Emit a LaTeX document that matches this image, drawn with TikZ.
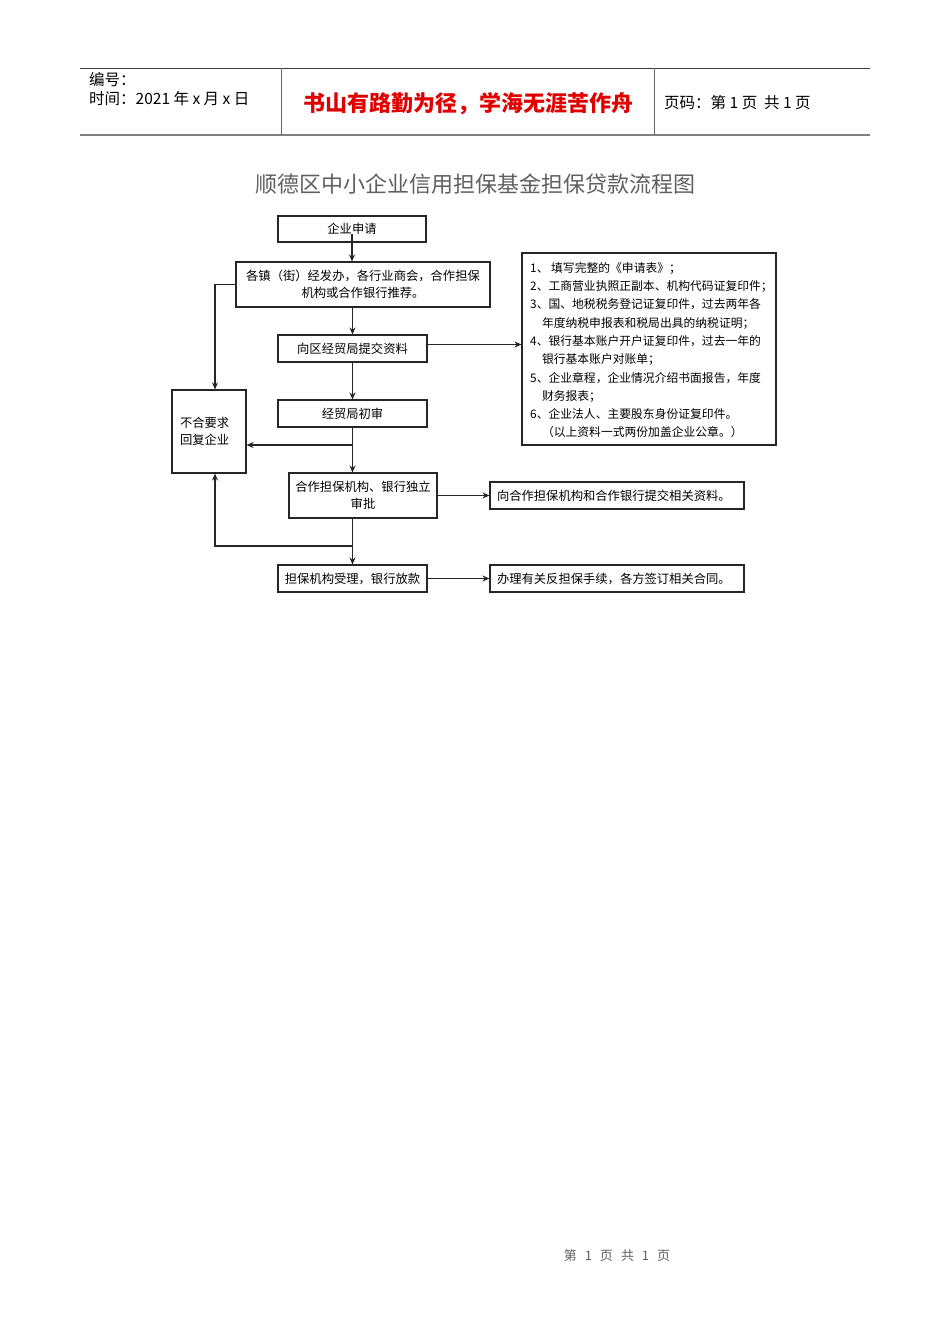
\documentclass[tikz,border=0pt]{standalone}
\usepackage{fontspec}
\setmainfont{Noto Sans CJK SC}
\usepackage{xcolor}
\usetikzlibrary{arrows.meta, positioning, calc}

\definecolor{titlegray}{HTML}{5F5F5F}
\definecolor{mottored}{HTML}{E00000}

\begin{document}
\begin{tikzpicture}[x=1pt, y=-1pt,
        base/.style={
            draw=black!85, line width=1.1pt, align=center, inner sep=0pt,
            font=\fontsize{12.3}{17}\selectfont
        },
        stepbox/.style={base, minimum width=149pt, minimum height=27pt},
        widebox/.style={base, minimum width=254pt, minimum height=27pt},
        headtext/.style={inner sep=0pt, font=\fontsize{15.5}{18}\selectfont},
        arrow/.style={line width=1.1pt, draw=black!85, -{Stealth[length=7pt, width=6pt]}}
    ]
        \useasboundingbox (0,0) rectangle (950,1344);

        % Kopfzeile
        \draw[black!75, line width=0.8pt] (80,68) -- (870,68);
        \draw[black!50, line width=2pt] (80,135) -- (870,135);
        \draw[black!60, line width=0.7pt] (281,68) -- (281,135);
        \draw[black!60, line width=0.7pt] (654,68) -- (654,135);
        \node[headtext, anchor=west] (num) at (89,80) {编号：};
        \node[headtext, anchor=west] (date) at (89,99) {时间：2021 年 x 月 x 日};
        \node[inner sep=0pt, text=mottored, font=\fontsize{22}{25}\selectfont\bfseries] (motto) at (468,104) {书山有路勤为径，学海无涯苦作舟};
        \node[headtext, anchor=west] (pageno) at (664,103) {页码：第 1 页\ \ 共 1 页};

        % Titel
        \node[inner sep=0pt, text=titlegray, font=\fontsize{22}{26}\selectfont] (title) at (475,184) {顺德区中小企业信用担保基金担保贷款流程图};

        % Knoten
        \node[stepbox, minimum width=148pt, minimum height=26pt] (apply) at (352,229) {企业申请};
        \node[base, minimum width=254pt, minimum height=45pt] (recommend) at (363,284.5) {各镇（街）经发办，各行业商会，合作担保\\机构或合作银行推荐。};
        \node[stepbox] (submit) at (352.5,348.5) {向区经贸局提交资料};
        \node[stepbox] (review) at (352.5,413.5) {经贸局初审};
        \node[base, minimum width=74pt, minimum height=83pt, text width=58pt, align=left] (reject) at (209,431.5) {不合要求\\回复企业};
        \node[base, minimum width=148pt, minimum height=45pt] (approve) at (363,495.5) {合作担保机构、银行独立\\审批};
        \node[stepbox] (loan) at (352.5,578.5) {担保机构受理，银行放款};

        \node[base, minimum width=254pt, minimum height=192pt] (docs) at (649,349) {};
        \node[inner sep=0pt, anchor=north west, align=left, font=\fontsize{11.8}{18.3}\selectfont] (doclist) at (530,262) {%
            1、 填写完整的《申请表》；\\
            2、工商营业执照正副本、机构代码证复印件；\\
            3、国、地税税务登记证复印件，过去两年各\\
            \hspace*{1em}年度纳税申报表和税局出具的纳税证明；\\
            4、银行基本账户开户证复印件，过去一年的\\
            \hspace*{1em}银行基本账户对账单；\\
            5、企业章程，企业情况介绍书面报告，年度\\
            \hspace*{1em}财务报表；\\
            6、企业法人、主要股东身份证复印件。\\
            \hspace*{1em}（以上资料一式两份加盖企业公章。）};

        \node[widebox, text width=240pt, align=left] (coop) at (617,495.5) {向合作担保机构和合作银行提交相关资料。};
        \node[widebox, text width=240pt, align=left] (contract) at (617,578.5) {办理有关反担保手续，各方签订相关合同。};

        % Pfeile
        \coordinate (j1) at (352,445);
        \coordinate (j2) at (352,546);
        \draw[arrow] ([yshift=-5pt]apply.center) -- (apply.center |- recommend.north);
        \draw[arrow] (recommend.south -| submit) -- (submit.north);
        \draw[arrow] (submit) -- (review);
        \draw[arrow] (review.south) -- (review.south |- approve.north);
        \draw[arrow] (j1) -- (j1 -| reject.east);
        \draw[arrow] (approve.south -| loan) -- (loan.north);
        \draw[arrow] (j2) -| ([xshift=6pt]reject.south);
        \draw[arrow] (recommend.west) -| ([xshift=6pt]reject.north);
        \draw[arrow] ([yshift=4pt]submit.east) -- ([yshift=4pt]submit.east -| docs.west);
        \draw[arrow] (approve.east) -- (approve.east -| coop.west);
        \draw[arrow] (loan) -- (contract);

        % Fusszeile
        \node[inner sep=0pt, text=titlegray, font=\fontsize{13}{16}\selectfont] (footer) at (617,1256) {第\hspace{8pt}1\hspace{8pt}页\hspace{8pt}共\hspace{8pt}1\hspace{8pt}页};
\end{tikzpicture}
\end{document}
